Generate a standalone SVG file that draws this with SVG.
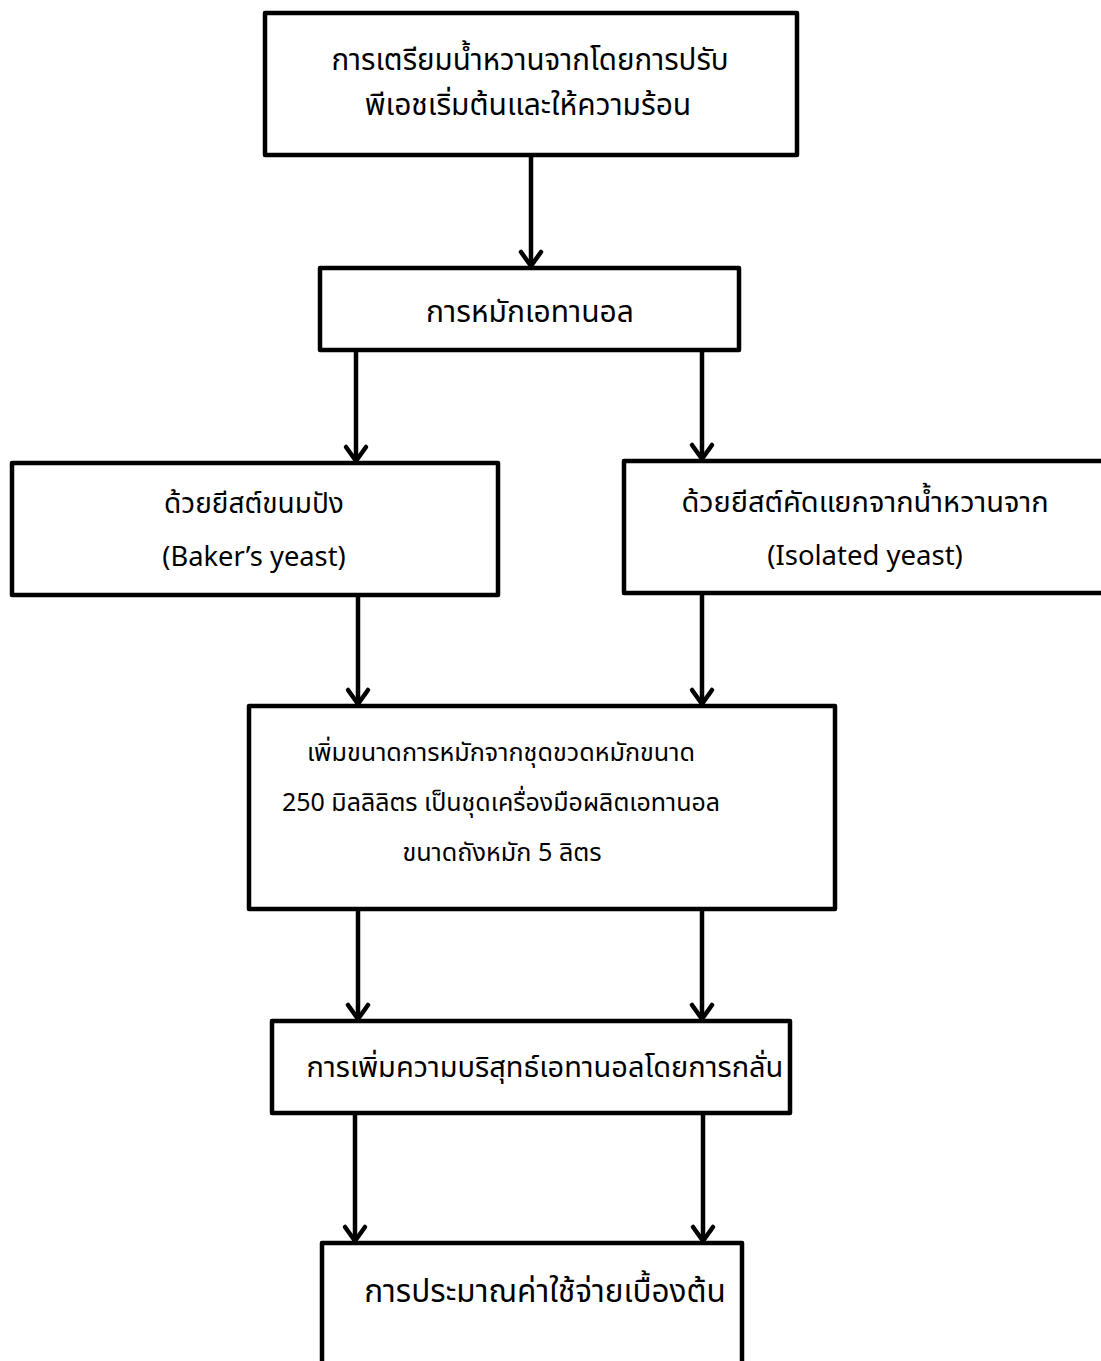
<svg xmlns="http://www.w3.org/2000/svg" width="1101" height="1361" viewBox="0 0 1101 1361">
<style>
  .box { fill: #ffffff; stroke: #000000; stroke-width: 4.5; stroke-linejoin: round; }
  .t { font-family: "Noto Sans Thai", "Noto Sans", "Liberation Sans", sans-serif; fill: #000000; text-anchor: middle; }
  .con { stroke: #000000; stroke-width: 4.5; fill: none; marker-end: url(#arr); }
</style>
<defs>
  <marker id="arr" markerUnits="userSpaceOnUse" markerWidth="30" markerHeight="30" viewBox="-20 -15 24 30" refX="0" refY="0" orient="auto">
    <path d="M-14,-10 L0,0 L-14,10" fill="none" stroke="#000000" stroke-width="4.5" stroke-linecap="round" stroke-linejoin="miter"/>
  </marker>
</defs>
<rect x="0" y="0" width="1101" height="1361" fill="#ffffff"/>
<g id="connectors">
  <line class="con" x1="531" y1="155" x2="531" y2="266"/>
  <line class="con" x1="356" y1="350" x2="356" y2="461"/>
  <line class="con" x1="702" y1="350" x2="702" y2="459"/>
  <line class="con" x1="358" y1="595" x2="358" y2="704"/>
  <line class="con" x1="702" y1="593" x2="702" y2="704"/>
  <line class="con" x1="358" y1="909" x2="358" y2="1019"/>
  <line class="con" x1="702" y1="909" x2="702" y2="1019"/>
  <line class="con" x1="355" y1="1113" x2="355" y2="1241"/>
  <line class="con" x1="703" y1="1113" x2="703" y2="1241"/>
</g>
<g id="n1">
  <rect class="box" x="265" y="13" width="532" height="142"/>
  <text class="t" x="530" y="70" font-size="29.5">การเตรียมน้ำหวานจากโดยการปรับ</text>
  <text class="t" x="528" y="115" font-size="30">พีเอชเริ่มต้นและให้ความร้อน</text>
</g>
<g id="n2">
  <rect class="box" x="320" y="268" width="419" height="82"/>
  <text class="t" x="530" y="322" font-size="30">การหมักเอทานอล</text>
</g>
<g id="n3">
  <rect class="box" x="12" y="463" width="486" height="132"/>
  <text class="t" x="254" y="513" font-size="28">ด้วยยีสต์ขนมปัง</text>
  <text class="t" x="254" y="566" font-size="27.3">(Baker’s yeast)</text>
</g>
<g id="n4">
  <rect class="box" x="624" y="461" width="490" height="132"/>
  <text class="t" x="865" y="512" font-size="29">ด้วยยีสต์คัดแยกจากน้ำหวานจาก</text>
  <text class="t" x="865" y="565" font-size="27.5">(Isolated yeast)</text>
</g>
<g id="n5">
  <rect class="box" x="249" y="706" width="586" height="203"/>
  <text class="t" x="501" y="761" font-size="25.2">เพิ่มขนาดการหมักจากชุดขวดหมักขนาด</text>
  <text class="t" x="501" y="811" font-size="25">250 มิลลิลิตร เป็นชุดเครื่องมือผลิตเอทานอล</text>
  <text class="t" x="502" y="861" font-size="25.2">ขนาดถังหมัก 5 ลิตร</text>
</g>
<g id="n6">
  <rect class="box" x="272" y="1021" width="518" height="92"/>
  <text class="t" x="545" y="1077" font-size="29">การเพิ่มความบริสุทธ์เอทานอลโดยการกลั่น</text>
</g>
<g id="n7">
  <rect class="box" x="322" y="1243" width="420" height="140"/>
  <text class="t" x="545" y="1302" font-size="31.5">การประมาณค่าใช้จ่ายเบื้องต้น</text>
</g>
</svg>
